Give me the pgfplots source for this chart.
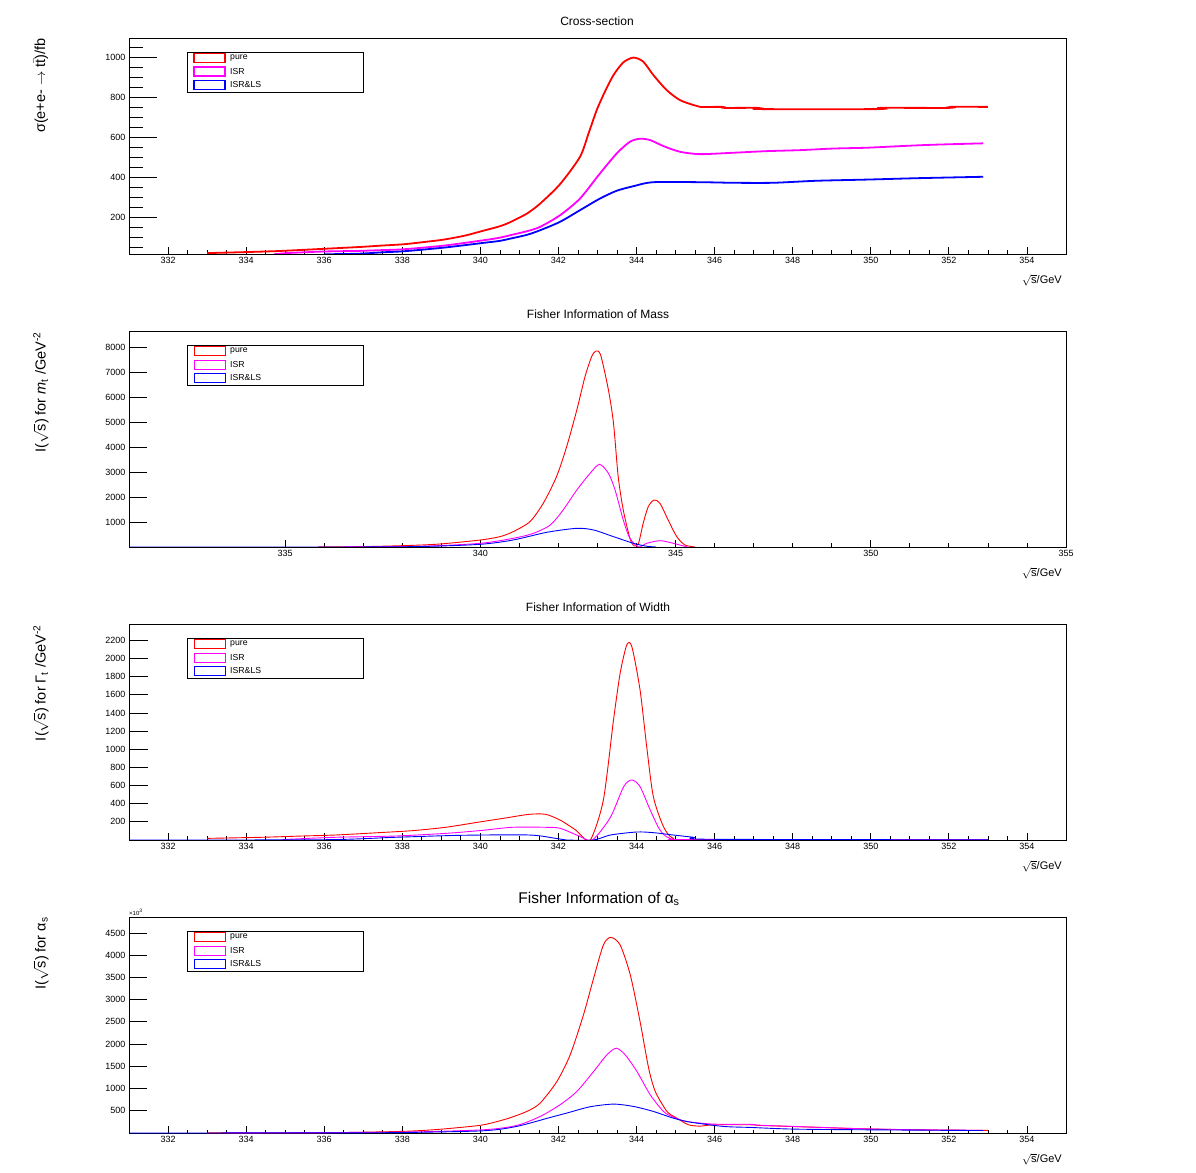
\documentclass[border=0pt]{standalone}
\usepackage{pgfplots}
\pgfplotsset{compat=1.18}
\usepackage{fontspec}
\setmainfont{Liberation Sans}
\definecolor{rred}{RGB}{255,0,0}
\definecolor{rmag}{RGB}{255,0,255}
\definecolor{rblue}{RGB}{0,0,255}
\pgfplotsset{
 rootax/.style={
  scale only axis, width=937pt, height=216pt, anchor=south west,
  xmin=331, xmax=355,
  axis line style={line width=0.9pt},
  tick align=inside, tick pos=left,
  tick style={black, line width=0.8pt},
  xtick style={/pgfplots/major tick length=7pt,/pgfplots/minor tick length=3.5pt},
  tick label style={font=\fontsize{9}{10}\selectfont},
  xticklabel style={inner sep=0pt, yshift=-3pt},
  /pgf/number format/assume math mode=true,
  /pgf/number format/1000 sep={},
  scaled ticks=false,
  every axis plot/.append style={smooth, tension=0.45},
 },
 xa/.style={xtick={332,334,...,354}, minor x tick num=3},
}
\newcommand{\rootlegend}[2]{%
 \draw[line width=0.9pt] (187,#1) rectangle (363,#1+40);
 \draw[rred,line width=#2] (194,#1+1.5) rectangle (225,#1+10.5);
 \draw[rmag,line width=#2] (194,#1+15) rectangle (225,#1+24);
 \draw[rblue,line width=#2] (194,#1+28.5) rectangle (225,#1+37.5);
 \node[anchor=west,inner sep=0pt,font=\fontsize{8.7}{9}\selectfont] at (230,#1+6) {pure};
 \node[anchor=west,inner sep=0pt,font=\fontsize{8.7}{9}\selectfont] at (230,#1+19.5) {ISR};
 \node[anchor=west,inner sep=0pt,font=\fontsize{8.7}{9}\selectfont] at (230,#1+33) {ISR\&LS};
}
\begin{document}
\begin{tikzpicture}
\path[use as bounding box] (0,0) rectangle (1196pt,1172pt);

% ---------- Panel 1: cross-section ----------
\begin{axis}[rootax, xa, at={(129pt,918pt)},
  ymin=16.5, ymax=1095,
  ytick={200,400,...,1000}, minor ytick={50,100,...,1050},
  ytick style={/pgfplots/major tick length=28pt,/pgfplots/minor tick length=14pt}]
\addplot[rred, line width=1.8pt] coordinates {
(333.0,21)(334.0,26)(334.8,31)(335.55,38)(336.06,43)(336.57,48)(336.96,52)(337.43,58)
(338.03,65)(338.5,75)(339.05,88)(339.6,108)(340.08,133)(340.5,155)(340.76,175)(341.19,218)
(341.53,268)(342.04,365)(342.55,501)(342.77,618)(342.98,735)(343.19,827)(343.41,910)(343.66,973)(343.92,997)
(344.17,977)(344.43,910)(344.77,835)(345.11,785)(345.46,760)(345.63,751)(346.2,751)
(346.25,746)(347.1,746)(347.15,740)(350.2,740)(350.25,746)(352.0,746)(352.05,751)(353.0,751)};
\addplot[rmag, line width=1.8pt] coordinates {
(334.71,15)(335.04,21)(335.5,25)(336.0,29)(336.9,32)(337.5,36)(338.03,40)(339.05,58)
(340.08,85)(340.5,98)(340.76,110)(341.19,130)(341.53,152)(342.04,210)(342.55,293)
(343.06,418)(343.49,518)(343.83,577)(344.09,592)(344.35,585)(344.69,555)(345.11,527)
(345.63,515)(346.48,522)(347.33,530)(348.19,535)(349.04,543)(349.89,547)(350.75,555)
(351.6,562)(352.88,569)};
\addplot[rblue, line width=1.8pt] coordinates {
(336.0,15)(336.9,18)(337.5,25)(338.03,30)(339.05,48)(340.08,72)(340.5,82)(340.76,93)
(341.19,112)(341.53,135)(342.04,177)(342.55,235)(343.06,293)(343.49,332)(343.92,355)
(344.43,375)(345.63,375)(346.48,372)(347.5,372)(348.6,382)(349.9,388)(351.2,395)(352.88,402)};
\end{axis}

% ---------- Panel 2: mass ----------
\begin{axis}[rootax, at={(129pt,625pt)},
  xtick={335,340,...,355}, minor x tick num=4,
  ymin=0, ymax=8640, ytick={1000,2000,...,8000},
  ytick style={/pgfplots/major tick length=18pt}]
\addplot[rred, line width=0.9pt] coordinates {
(335.85,8)(337.0,15)(338.15,60)(338.97,120)(340.0,280)(340.5,413)(340.84,613)(341.27,1013)
(341.61,1747)(341.95,2813)(342.21,4013)(342.47,5480)(342.68,6813)(342.85,7613)(342.96,7840)
(343.08,7680)(343.28,6280)(343.41,4947)(343.53,2813)(343.66,1480)(343.83,347)(343.94,40)
(344.05,147)(344.17,947)(344.30,1613)(344.45,1880)(344.60,1747)(344.81,1080)(345.03,413)
(345.24,80)(345.5,0)};
\addplot[rmag, line width=0.9pt] coordinates {
(336.5,5)(338.5,30)(340.0,147)(340.84,347)(341.36,547)(341.79,880)(342.12,1480)(342.47,2280)
(342.81,2947)(343.05,3307)(343.28,2947)(343.45,2280)(343.66,1080)(343.83,347)(344.05,0)
(344.26,147)(344.60,253)(344.94,147)(345.3,0)};
\addplot[rblue, line width=0.9pt] coordinates {
(331,0)(336.5,0)(338.5,20)(340.0,107)(340.84,280)(341.70,587)(342.47,747)(342.90,680)
(343.41,413)(343.92,147)(344.26,30)(344.5,0)};
\end{axis}

% ---------- Panel 3: width ----------
\begin{axis}[rootax, xa, at={(129pt,332pt)},
  ymin=0, ymax=2381, ytick={200,400,...,2200},
  ytick style={/pgfplots/major tick length=19pt}]
\addplot[rred, line width=0.9pt] coordinates {
(333.0,18)(334.41,30)(335.44,44)(336.29,55)(337.4,81)(338.26,103)(339.11,140)(339.97,198)
(340.65,243)(341.25,283)(341.67,283)(342.04,220)(342.44,110)(342.55,65)(342.82,2)
(343.15,441)(343.41,1323)(343.58,1838)(343.75,2150)(343.88,2131)(344.09,1654)(344.26,1029)
(344.43,478)(344.69,147)(344.94,18)(345.5,5)(353.0,2)};
\addplot[rmag, line width=0.9pt] coordinates {
(334.93,5)(336.29,30)(337.83,44)(339.11,73)(339.97,103)(340.82,140)(341.67,140)(342.04,129)
(342.53,44)(342.87,0)(343.33,250)(343.67,588)(343.88,662)(344.09,588)(344.35,331)(344.60,110)
(344.86,18)(345.5,3)(353.0,2)};
\addplot[rblue, line width=0.9pt] coordinates {
(331,0)(336.0,3)(337.83,30)(339.54,52)(341.25,55)(341.93,18)(342.2,0)(342.9,0)(343.33,55)
(344.0,88)(344.43,81)(344.94,55)(345.46,30)(345.9,8)(353.0,2)};
\end{axis}

% ---------- Panel 4: alpha_s ----------
\begin{axis}[rootax, xa, at={(129pt,39pt)},
  ymin=0, ymax=4860, ytick={500,1000,...,4500},
  ytick style={/pgfplots/major tick length=18pt}]
\addplot[rred, line width=0.9pt] coordinates {
(333.0,2)(335.76,3)(337.94,35)(338.8,73)(339.48,125)(340.08,185)(340.68,320)(341.19,485)
(341.53,672)(341.96,1159)(342.30,1758)(342.64,2657)(342.90,3481)(343.15,4230)(343.34,4402)
(343.58,4230)(343.84,3556)(344.09,2507)(344.31,1459)(344.48,934)(344.78,485)(345.03,335)
(345.33,185)(345.63,155)(345.97,185)(346.92,185)(347.17,170)(348.44,133)(349.72,96)
(351.0,73)(353.0,58)};
\addplot[rmag, line width=0.9pt] coordinates {
(333.5,2)(337.94,20)(340.08,73)(340.93,170)(341.53,372)(342.04,635)(342.47,934)(342.90,1384)
(343.24,1758)(343.48,1908)(343.71,1758)(344.01,1384)(344.35,860)(344.69,485)(344.94,358)
(345.28,260)(345.97,200)(346.92,195)(347.17,175)(348.44,135)(349.72,98)(351.0,75)(352.88,60)};
\addplot[rblue, line width=0.9pt] coordinates {
(331,0)(336,3)(337.94,10)(340.08,50)(340.93,148)(341.79,350)(342.21,448)(342.81,590)
(343.41,650)(343.92,598)(344.43,485)(344.94,335)(345.37,245)(346.22,148)(346.92,125)
(348.0,88)(349.72,73)(352.3,58)(352.88,56)};
\end{axis}

% ---------- Annotations (pixel coordinates, y downward) ----------
\begin{scope}[x=1pt, y=-1pt, yshift=1172pt]
 \node[font=\fontsize{12}{14}\selectfont] at (597,21) {Cross-section};
 \node[font=\fontsize{12}{14}\selectfont] at (598,314) {Fisher Information of Mass};
 \node[font=\fontsize{12}{14}\selectfont] at (598,607) {Fisher Information of Width};
 \node[font=\fontsize{15.5}{17}\selectfont] at (599,899) {Fisher Information of α\textsubscript{s}};

 \foreach \yy in {280,573,866,1159}{
  \node[anchor=east, inner sep=0pt, font=\fontsize{11}{12}\selectfont] at (1062,\yy) {\smash{$\sqrt{\mbox{s}}$}/GeV};
 }

 \node[rotate=90, anchor=east, inner sep=0pt, font=\fontsize{14.5}{16}\selectfont] at (41,38)
   {σ(e+e- $\rightarrow$ t$\bar{\mbox{t}}$)/fb};
 \node[rotate=90, anchor=east, inner sep=0pt, font=\fontsize{14.5}{16}\selectfont] at (41,332)
   {I($\sqrt{\mbox{s}}$) for \textit{m}\textsubscript{t} /GeV\textsuperscript{-2}};
 \node[rotate=90, anchor=east, inner sep=0pt, font=\fontsize{14.5}{16}\selectfont] at (41,625)
   {I($\sqrt{\mbox{s}}$) for Γ\textsubscript{t} /GeV\textsuperscript{-2}};
 \node[rotate=90, anchor=east, inner sep=0pt, font=\fontsize{14.5}{16}\selectfont] at (41,917)
   {I($\sqrt{\mbox{s}}$) for α\textsubscript{s}};

 \node[anchor=base west, inner sep=0pt, font=\fontsize{6}{7}\selectfont] at (129,915.5) {×10\textsuperscript{3}};

 \rootlegend{52}{1.8pt}
 \rootlegend{345}{0.9pt}
 \rootlegend{638}{0.9pt}
 \rootlegend{931}{0.9pt}
\end{scope}
\end{tikzpicture}
\end{document}
